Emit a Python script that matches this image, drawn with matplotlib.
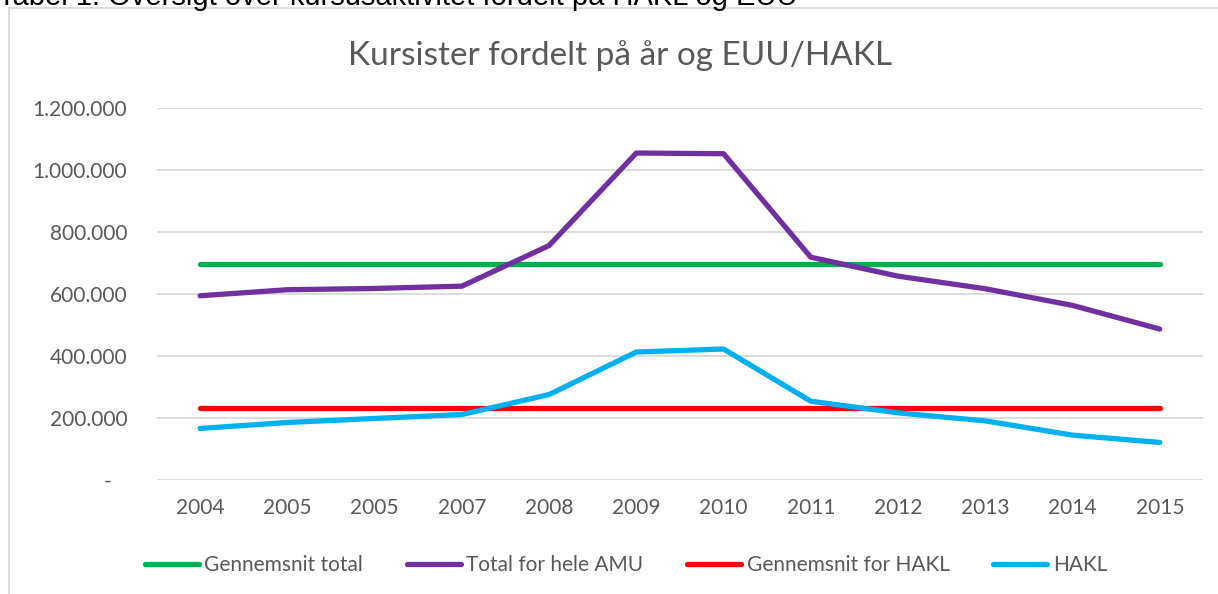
import numpy as np
import matplotlib.pyplot as plt
from matplotlib.ticker import FuncFormatter
from matplotlib.patches import Rectangle

# data
years = ['2004', '2005', '2005', '2007', '2008', '2009', '2010', '2011', '2012', '2013', '2014', '2015']
gennemsnit_total = [697000] * 12
total_amu = [593500, 612900, 617000, 624400, 755300, 1053400, 1051100, 717700, 656600, 616100, 562400, 486200]
gennemsnit_hakl = [232200] * 12
hakl = [165900, 185200, 198100, 210900, 275200, 412200, 421900, 253700, 216100, 190400, 144400, 120900]

grey = '#595959'
font = ['Lato', 'DejaVu Sans']

fig = plt.figure(figsize=(12.18, 5.94), dpi=100)
ax = fig.add_axes([0.1285, 0.192, 0.8595, 0.627])

x = np.arange(len(years))
series = [
    ('Gennemsnit total', gennemsnit_total, '#00b050'),
    ('Total for hele AMU', total_amu, '#7030a0'),
    ('Gennemsnit for HAKL', gennemsnit_hakl, '#ff0000'),
    ('HAKL', hakl, '#00b0f0'),
]
for name, vals, col in series:
    ax.plot(x, vals, color=col, lw=3.8, solid_capstyle='round', solid_joinstyle='round', label=name, zorder=3)

ax.set_xlim(-0.5, len(years) - 0.5)
ax.set_ylim(0, 1200000)
ax.set_yticks(np.arange(0, 1200001, 200000))
ax.set_xticks(x)
ax.set_xticklabels(years)

def fmt(v, pos):
    if v == 0:
        return '-   '
    return f'{int(v):,}'.replace(',', '.')

ax.yaxis.set_major_formatter(FuncFormatter(fmt))
ax.grid(axis='y', color='#d9d9d9', lw=1.3, zorder=0)
for s in ax.spines.values():
    s.set_visible(False)
ax.tick_params(axis='both', length=0, labelsize=15, labelcolor=grey)
ax.tick_params(axis='y', pad=21)
ax.tick_params(axis='x', pad=13)
for lab in ax.get_xticklabels() + ax.get_yticklabels():
    lab.set_family(font)

fig.text(0.509, 0.907, 'Kursister fordelt på år og EUU/HAKL', ha='center', va='center',
         fontsize=24, color=grey, family=font)

leg = fig.legend(loc='center', bbox_to_anchor=(0.514, 0.049), ncol=4, frameon=False,
                 handlelength=2.6, handletextpad=0.25, columnspacing=2.1,
                 prop={'family': font, 'size': 15})
for t in leg.get_texts():
    t.set_color(grey)

# chart frame and cut-off caption above it
fig.patches.append(Rectangle((9 / 1218, -0.1), 1.2, 1 - 8 / 594 + 0.1, transform=fig.transFigure,
                             fill=False, edgecolor='#d9d9d9', lw=1.3))
fig.text(-0.002, 1 - 5 / 594, 'Tabel 1: Oversigt over kursusaktivitet fordelt på HAKL og EUU',
         ha='left', va='baseline', fontsize=21, color='black', family=['Liberation Sans', 'DejaVu Sans'])

fig.savefig('out.png', dpi=100)
